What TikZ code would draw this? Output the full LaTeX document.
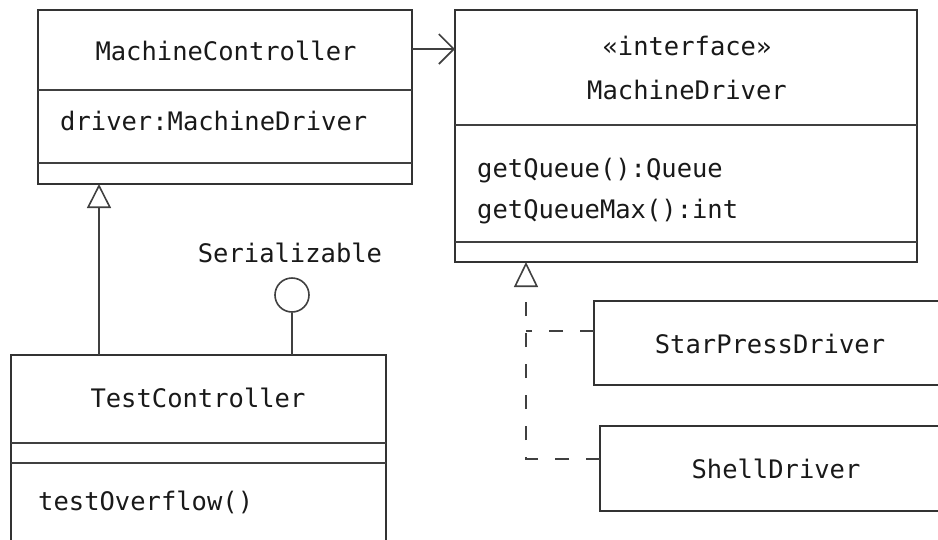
\documentclass[tikz,border=0pt]{standalone}
\usepackage{fontspec}
\newfontfamily\umlfont{DejaVu Sans Mono}
\usetikzlibrary{arrows.meta,calc}
\begin{document}
\begin{tikzpicture}[x=1pt,y=-1pt,
  umlbox/.style={draw=black!80, line width=1.6pt, anchor=north west, inner sep=0pt, outer sep=0pt},
  lbl/.style={font=\umlfont\fontsize{25.5}{30}\selectfont, text=black!90, inner sep=0pt},
  conn/.style={draw=black!75, line width=1.6pt},
  gen/.style={conn, -{Triangle[open, length=24pt, width=24pt]}},
  dep/.style={conn, -{Straight Barb[length=15pt, width=30pt]}},
  real/.style={conn, dash pattern=on 14pt off 17pt},
  realtip/.style={real, -{Triangle[open, length=25pt, width=24pt]}}
]
\useasboundingbox (0,0) rectangle (938,539);
\clip (0,0) rectangle (938,539);
% MachineController
\node[umlbox, minimum width=374pt, minimum height=174pt] (mc) at (38,10) {};
\draw[conn] (38,90) -- (412,90);
\draw[conn] (38,163) -- (412,163);
\node[lbl, anchor=base] (mct) at (226,60) {MachineController};
\node[lbl, anchor=base west] (mca) at (60,130) {driver:MachineDriver};
% MachineDriver
\node[umlbox, minimum width=462pt, minimum height=252pt] (md) at (455,10) {};
\draw[conn] (455,125) -- (917,125);
\draw[conn] (455,242) -- (917,242);
\node[lbl, anchor=base] (mds) at (687,55) {«interface»};
\node[lbl, anchor=base] (mdt) at (687,99) {MachineDriver};
\node[lbl, anchor=base west] (mdo1) at (477,177) {getQueue():Queue};
\node[lbl, anchor=base west] (mdo2) at (477,218) {getQueueMax():int};
% TestController
\node[umlbox, minimum width=375pt, minimum height=220pt] (tc) at (11,355) {};
\draw[conn] (11,443) -- (386,443);
\draw[conn] (11,463) -- (386,463);
\node[lbl, anchor=base] (tct) at (198,407) {TestController};
\node[lbl, anchor=base west] (tco) at (38,510) {testOverflow()};
% Serializable lollipop
\node[lbl, anchor=base] (ser) at (290,262) {Serializable};
\node[draw=black!75, line width=1.6pt, circle, minimum size=34pt, inner sep=0pt] (ifc) at (292,295) {};
% StarPressDriver / ShellDriver
\node[umlbox, minimum width=380pt, minimum height=84pt] (sp) at (594,301) {};
\node[lbl, anchor=base] (spt) at (770,353) {StarPressDriver};
\node[umlbox, minimum width=380pt, minimum height=85pt] (sh) at (600,426) {};
\node[lbl, anchor=base] (sht) at (776,478) {ShellDriver};
% connectors
\draw[dep] ($(mc.north east)+(0,39)$) -- ($(md.north west)+(0,39)$);
\draw[gen] ($(tc.north west)+(88,0)$) -- ($(mc.south west)+(61,0)$);
\draw[conn] (ifc.south) -- (ifc.south |- tc.north);
\coordinate (jn) at (526,331);
\draw[realtip] ($(sh.north west)+(0,33)$) -| ($(md.south west)+(71,0)$);
\draw[real] ($(sp.north west)+(0,30)$) -- (jn);
\end{tikzpicture}
\end{document}
